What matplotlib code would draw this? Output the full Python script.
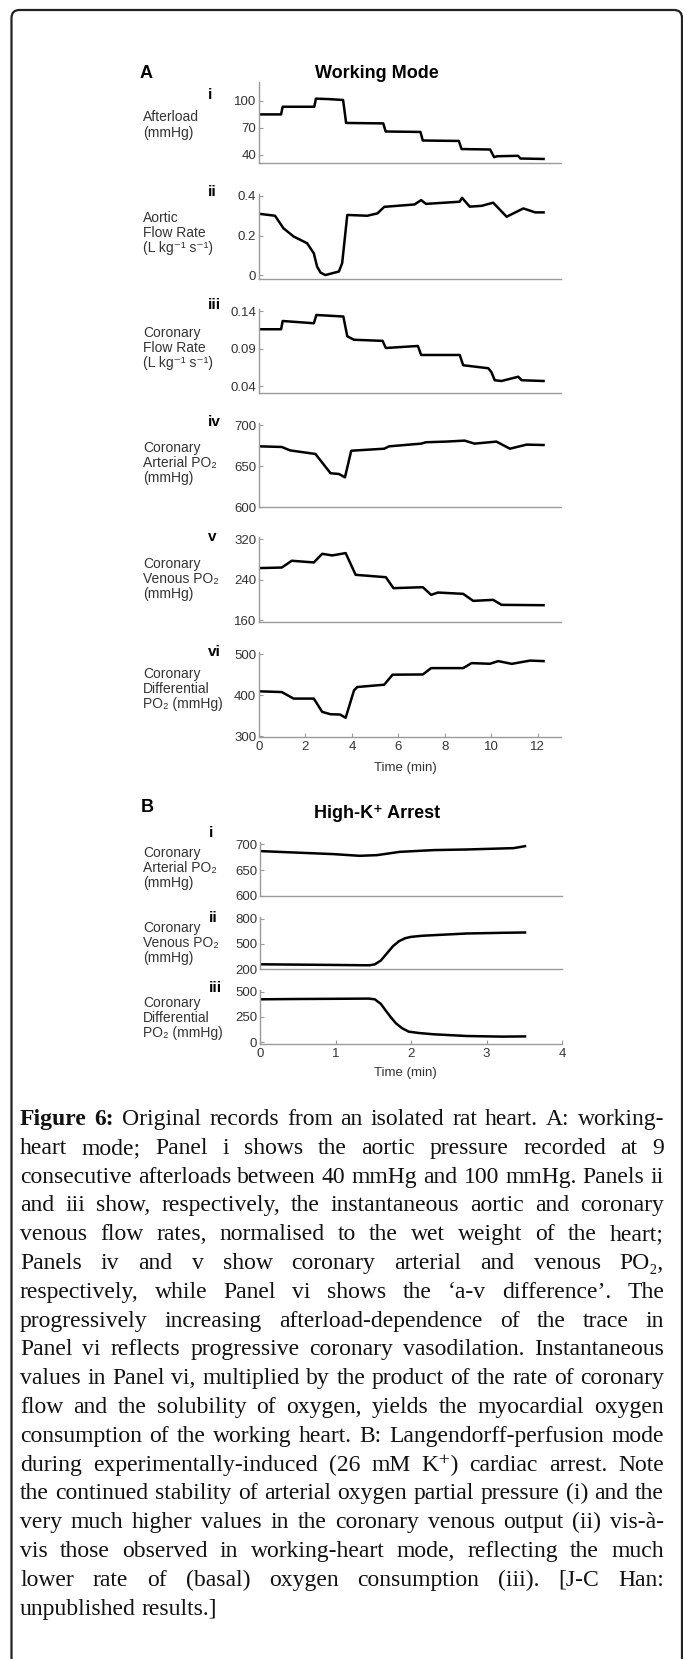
import matplotlib.pyplot as plt
from matplotlib.patches import FancyBboxPatch
from matplotlib.transforms import IdentityTransform

W, H = 683, 1659

# ---- A: working mode (time in min) ----
afterload_t = [0, 0.95, 1.02, 2.38, 2.45, 3.0, 3.62, 3.75, 5.35, 5.45, 6.95, 7.05,
               8.6, 8.72, 9.95, 10.12, 10.25, 11.15, 11.25, 12.25]
afterload_v = [85, 85, 93.5, 93.5, 102.5, 102, 101, 75.5, 75, 66, 65.5, 56,
               55.5, 46.5, 46, 37.5, 38.5, 39, 36, 35.5]

aortic_t = [0, 0.69, 1.05, 1.49, 2.07, 2.36, 2.5, 2.65, 2.86, 3.44, 3.58, 3.8, 4.66,
            5.1, 5.39, 6.69, 6.98, 7.19, 8.64, 8.74, 9.07, 9.58, 10.08, 10.66,
            11.38, 11.89, 12.25]
aortic_v = [0.31, 0.30, 0.237, 0.195, 0.161, 0.11, 0.043, 0.012, 0.0, 0.018, 0.06,
            0.304, 0.30, 0.312, 0.345, 0.357, 0.379, 0.36, 0.371, 0.391, 0.346,
            0.35, 0.366, 0.295, 0.337, 0.317, 0.317]

cor_flow_t = [0, 0.95, 1.02, 2.36, 2.47, 3.63, 3.8, 4.09, 5.32, 5.46, 6.84, 6.98,
              8.64, 8.79, 9.87, 10.0, 10.15, 10.44, 11.16, 11.31, 12.25]
cor_flow_v = [0.116, 0.116, 0.127, 0.124, 0.135, 0.133, 0.1066, 0.102, 0.1005,
              0.091, 0.0937, 0.0817, 0.0817, 0.068, 0.064, 0.059, 0.048, 0.047,
              0.0527, 0.048, 0.047]

art_t = [0, 0.98, 1.34, 2.43, 3.08, 3.44, 3.7, 3.97, 5.39, 5.6, 6.98, 7.19, 8.06,
         8.85, 9.28, 10.22, 10.8, 11.52, 12.25]
art_v = [674.4, 673.6, 669.4, 665, 641.4, 640.5, 636.4, 669, 671.5, 674.4, 677.7,
         679.4, 680.2, 681.4, 677.7, 680.2, 671.5, 676.5, 676]

ven_t = [0, 0.98, 1.41, 2.36, 2.72, 3.15, 3.73, 4.16, 5.46, 5.79, 7.05, 7.41, 7.7,
         8.79, 9.22, 10.08, 10.44, 12.25]
ven_v = [262.9, 264, 277.3, 274, 291, 287.8, 292.4, 249.7, 245, 223.5, 225.4,
         210.3, 214.9, 212.3, 198.5, 200.5, 190.7, 190]

diff_t = [0, 0.98, 1.49, 2.36, 2.72, 3.08, 3.49, 3.73, 4.09, 4.23, 5.39, 5.75,
          7.05, 7.41, 8.79, 9.15, 9.94, 10.3, 10.88, 11.67, 12.25]
diff_v = [409.8, 408, 392, 392, 359.5, 353.7, 353, 345, 412.2, 420.3, 426, 450.5,
          451, 466.6, 466.6, 478.8, 477.2, 483.7, 477, 485, 483.7]

# ---- B: high-K+ arrest ----
b_art_t = [0, 0.53, 0.97, 1.32, 1.55, 1.85, 2.3, 2.74, 3.36, 3.51]
b_art_v = [686.5, 683.3, 680.7, 677.4, 678.7, 685, 688.4, 689.6, 692.2, 696]

b_ven_t = [0, 0.5, 1.0, 1.45, 1.52, 1.6, 1.68, 1.76, 1.84, 1.92, 2.0, 2.15, 2.3,
           2.74, 3.2, 3.51]
b_ven_v = [256, 252, 248, 244, 255, 300, 385, 470, 530, 565, 582, 595, 602,
           622, 630, 634]

b_diff_t = [0, 0.5, 1.0, 1.44, 1.52, 1.6, 1.66, 1.73, 1.8, 1.88, 1.97, 2.1, 2.3,
            2.74, 3.2, 3.51]
b_diff_v = [425, 428, 430, 432, 425, 380, 319, 250, 188, 140, 105, 92, 79,
            62, 56, 58]

a_labels = ["Afterload\n(mmHg)", "Aortic\nFlow Rate\n(L kg⁻¹ s⁻¹)",
            "Coronary\nFlow Rate\n(L kg⁻¹ s⁻¹)", "Coronary\nArterial PO₂\n(mmHg)",
            "Coronary\nVenous PO₂\n(mmHg)", "Coronary\nDifferential\nPO₂ (mmHg)"]
a_numerals = ["i", "ii", "iii", "iv", "v", "vi"]
a_yticks = [[40, 70, 100], [0, 0.2, 0.4], [0.04, 0.09, 0.14],
            [600, 650, 700], [160, 240, 320], [300, 400, 500]]
a_yticklabels = [["40", "70", "100"], ["0", "0.2", "0.4"], ["0.04", "0.09", "0.14"],
                 ["600", "650", "700"], ["160", "240", "320"], ["300", "400", "500"]]
a_xticks = [0, 2, 4, 6, 8, 10, 12]

b_labels = ["Coronary\nArterial PO₂\n(mmHg)", "Coronary\nVenous PO₂\n(mmHg)",
            "Coronary\nDifferential\nPO₂ (mmHg)"]
b_numerals = ["i", "ii", "iii"]
b_yticks = [[600, 650, 700], [200, 500, 800], [0, 250, 500]]
b_xticks = [0, 1, 2, 3, 4]

caption_lines = [
    "Figure 6: Original records from an isolated rat heart. A: working-",
    "heart mode; Panel i shows the aortic pressure recorded at 9",
    "consecutive afterloads between 40 mmHg and 100 mmHg. Panels ii",
    "and iii show, respectively, the instantaneous aortic and coronary",
    "venous flow rates, normalised to the wet weight of the heart;",
    "Panels iv and v show coronary arterial and venous PO₂,",
    "respectively, while Panel vi shows the ‘a-v difference’. The",
    "progressively increasing afterload-dependence of the trace in",
    "Panel vi reflects progressive coronary vasodilation. Instantaneous",
    "values in Panel vi, multiplied by the product of the rate of coronary",
    "flow and the solubility of oxygen, yields the myocardial oxygen",
    "consumption of the working heart. B: Langendorff-perfusion mode",
    "during experimentally-induced (26 mM K⁺) cardiac arrest. Note",
    "the continued stability of arterial oxygen partial pressure (i) and the",
    "very much higher values in the coronary venous output (ii) vis-à-",
    "vis those observed in working-heart mode, reflecting the much",
    "lower rate of (basal) oxygen consumption (iii). [J-C Han:",
    "unpublished results.]",
]

plt.rcParams['font.family'] = ['Liberation Sans', 'DejaVu Sans']
SERIF = ['Liberation Serif', 'DejaVu Serif']
GREY = '#9a9a9a'
TXT = '#333333'

fig = plt.figure(figsize=(W / 100, H / 100), dpi=100)


def rect(x0, y0, x1, y1):
    return [x0 / W, 1 - y1 / H, (x1 - x0) / W, (y1 - y0) / H]


def ftext(x, y, s, **kw):
    return fig.text(x / W, 1 - y / H, s, **kw)


def trace(r, t, v, xlim, ylim, yt, ytl, xt=None):
    ax = fig.add_axes(r)
    ax.plot(t, v, color='black', lw=1.8, solid_joinstyle='round')
    ax.set_xlim(xlim)
    ax.set_ylim(ylim)
    ax.set_yticks(yt)
    ax.set_yticklabels(ytl)
    if xt is None:
        ax.set_xticks([])
    else:
        ax.set_xticks(xt)
    for s in ['top', 'right']:
        ax.spines[s].set_visible(False)
    for s in ['left', 'bottom']:
        ax.spines[s].set_color(GREY)
        ax.spines[s].set_linewidth(1.0)
    ax.tick_params(direction='in', length=3, width=0.8, color=GREY,
                   labelsize=9.5, labelcolor=TXT, pad=2)
    ax.patch.set_alpha(0)
    return ax


# panel A
a_series = [(afterload_t, afterload_v), (aortic_t, aortic_v), (cor_flow_t, cor_flow_v),
            (art_t, art_v), (ven_t, ven_v), (diff_t, diff_v)]
a_ylims = [(31, 121), (-0.02, 0.41), (0.031, 0.143), (600, 703), (157, 324), (298, 506)]
a_tops = [82, 194, 309, 423, 537, 652]
a_bots = [163, 279, 393, 507, 622, 737]
a_num_y = [95, 192, 305, 422, 537, 652]
a_lab_y = [125, 233, 348, 463, 579, 689]
for k in range(6):
    t, v = a_series[k]
    xt = a_xticks if k == 5 else None
    ax = trace(rect(259, a_tops[k], 561, a_bots[k]), t, v, (0, 13), a_ylims[k],
               a_yticks[k], a_yticklabels[k], xt)
    ftext(208, a_num_y[k], a_numerals[k], fontsize=11, weight='bold', va='center')
    ftext(143, a_lab_y[k], a_labels[k], fontsize=10, color=TXT, va='center',
          linespacing=1.1)
ax.tick_params(axis='x', pad=3)
ftext(405, 768, "Time (min)", fontsize=9.5, color=TXT, ha='center', va='center')
ftext(146, 73, "A", fontsize=13, weight='bold', ha='center', va='center')
ftext(377, 73, "Working Mode", fontsize=13, weight='bold', ha='center', va='center')

# panel B
b_series = [(b_art_t, b_art_v), (b_ven_t, b_ven_v), (b_diff_t, b_diff_v)]
b_ylims = [(600, 704), (200, 818), (-17, 517)]
b_tops = [842, 917, 990]
b_bots = [896, 969, 1044]
b_num_y = [833, 918, 988]
b_lab_y = [868, 943, 1018]
for k in range(3):
    t, v = b_series[k]
    xt = b_xticks if k == 2 else None
    ax = trace(rect(260, b_tops[k], 562, b_bots[k]), t, v, (0, 4), b_ylims[k],
               b_yticks[k], [str(y) for y in b_yticks[k]], xt)
    ftext(209, b_num_y[k], b_numerals[k], fontsize=11, weight='bold', va='center')
    ftext(143, b_lab_y[k], b_labels[k], fontsize=10, color=TXT, va='center',
          linespacing=1.1)
ax.tick_params(axis='x', pad=3)
ftext(405, 1073, "Time (min)", fontsize=9.5, color=TXT, ha='center', va='center')
ftext(147, 808, "B", fontsize=13, weight='bold', ha='center', va='center')
ftext(377, 814, "High-K⁺ Arrest", fontsize=13, weight='bold', ha='center', va='center')

# caption, fully justified; font size chosen so the tightest line just fits
cap_left, cap_right = 20, 664
cap_y0, cap_dy, base_fs = 1125, 28.8, 14.5
renderer = fig.canvas.get_renderer()
rows = []
for i, line in enumerate(caption_lines):
    texts = []
    for j, w in enumerate(line.split(' ')):
        bold = i == 0 and j < 2
        texts.append(ftext(0, cap_y0 + i * cap_dy, w, fontsize=base_fs, family=SERIF,
                           weight='bold' if bold else 'normal', va='baseline',
                           color='#111111'))
    rows.append(texts)


def natural(texts, fs):
    sp = fs * 100 / 72 * 0.25
    return sum(t.get_window_extent(renderer).width for t in texts) + sp * (len(texts) - 1)


widest = max(natural(r, base_fs) for r in rows[:-1])
cap_fs = base_fs * (cap_right - cap_left) / widest * 0.995
for r in rows:
    for t in r:
        t.set_fontsize(cap_fs)
space_px = cap_fs * 100 / 72 * 0.25
for i, texts in enumerate(rows):
    widths = [t.get_window_extent(renderer).width for t in texts]
    if i == len(rows) - 1 or len(texts) == 1:
        gap = space_px
    else:
        gap = (cap_right - cap_left - sum(widths)) / (len(texts) - 1)
    x = cap_left
    for t, w in zip(texts, widths):
        t.set_x(x / W)
        x += w + gap

# rounded border, right and bottom edges run off the image
border = FancyBboxPatch((11.5, -100), 682 - 11.5, (H - 10) + 100,
                        boxstyle='round,pad=0,rounding_size=8',
                        transform=IdentityTransform(), fill=False, lw=1.6,
                        ec='#222222')
fig.add_artist(border)

fig.savefig('out.png', dpi=100)
